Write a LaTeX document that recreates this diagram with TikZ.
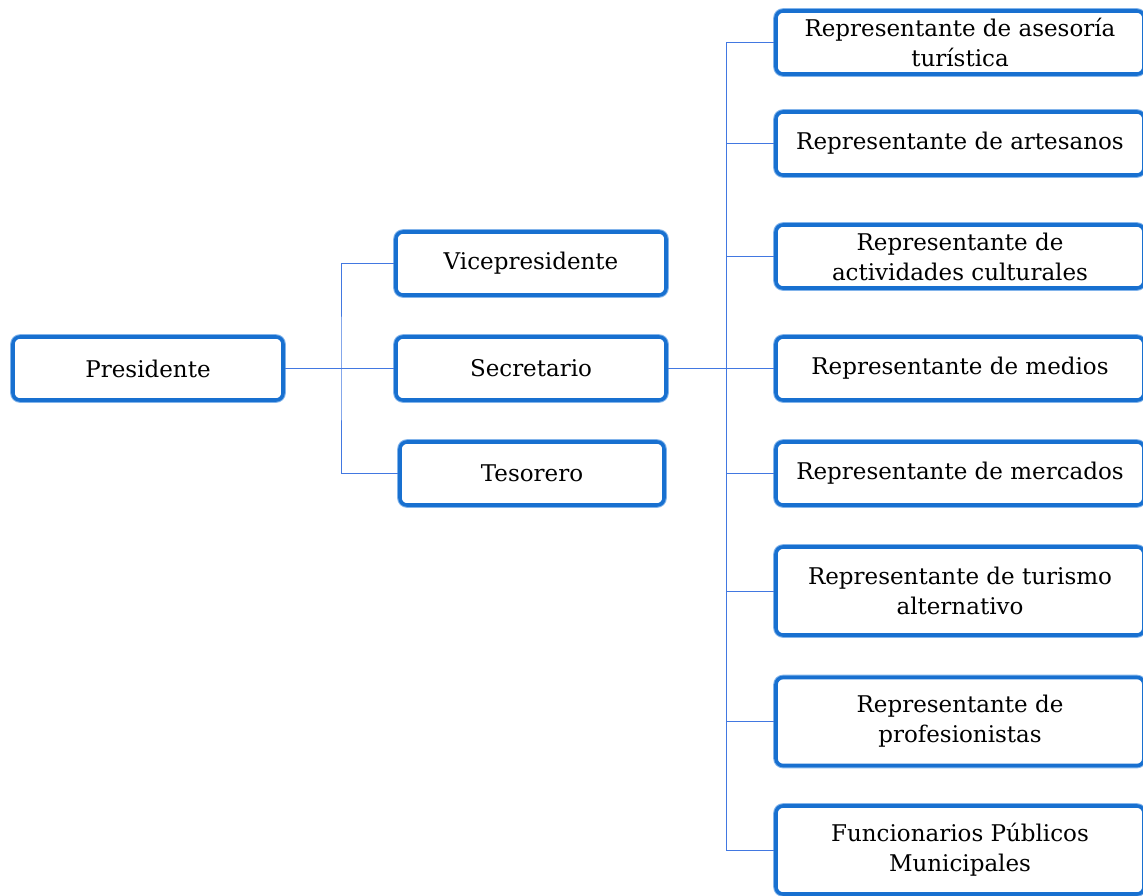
\documentclass[tikz,border=0pt]{standalone}
\usepackage{fontspec}
\setmainfont{DejaVu Serif}
\usetikzlibrary{positioning}
\definecolor{boxblue}{RGB}{24,112,208}
\definecolor{glowblue}{RGB}{130,180,235}
\definecolor{linkblue}{RGB}{66,120,225}

\begin{document}
\begin{tikzpicture}[
        x=1pt, y=-1pt,
        box/.style = {draw=boxblue, line width=3.6pt, rounded corners=7pt, fill=white,
            minimum width=270pt, minimum height=63pt, align=center, inner sep=2pt,
            font=\fontsize{23}{30}\selectfont,
            preaction={draw=glowblue, line width=5.6pt}},
        rbox/.style = {box, minimum width=368pt},
        link/.style = {draw=linkblue, line width=0.8pt},
    ]
        \useasboundingbox (0,0) rectangle (1143,895);
        % left part
        \node[box] (pres) at (148,368.5) {Presidente};
        \node[box] (vice) at (531,263.5) {Vicepresidente};
        \node[box] (secr) at (531,368.5) {Secretario};
        \node[box, minimum width=264pt] (teso) at (532,473.5) {Tesorero};
        % right part
        \node[rbox] (r1) at (960,42.5) {Representante de asesoría\\turística};
        \node[rbox] (r2) at (960,143.5) {Representante de artesanos};
        \node[rbox] (r3) at (960,256.5) {Representante de\\actividades culturales};
        \node[rbox] (r4) at (960,368.5) {Representante de medios};
        \node[rbox] (r5) at (960,473.5) {Representante de mercados};
        \node[rbox, minimum height=88pt] (r6) at (960,591) {Representante de turismo\\alternativo};
        \node[rbox, minimum height=88pt] (r7) at (960,721.5) {Representante de\\profesionistas};
        \node[rbox, minimum height=88pt] (r8) at (960,850) {Funcionarios Públicos\\Municipales};
        % connectors
        \coordinate (jl) at (341,368.5);
        \coordinate (jr) at (726,368.5);
        \draw[link] (pres.east) -- (secr.west);
        \draw[link] (vice.west) -| (jl) |- (teso.west);
        \draw[link] (secr.east) -- (r4.west);
        \foreach \n in {r1,r2,r3,r5,r6,r7,r8}
            \draw[link] (jr) |- (\n.west);
    \end{tikzpicture}
\end{document}
